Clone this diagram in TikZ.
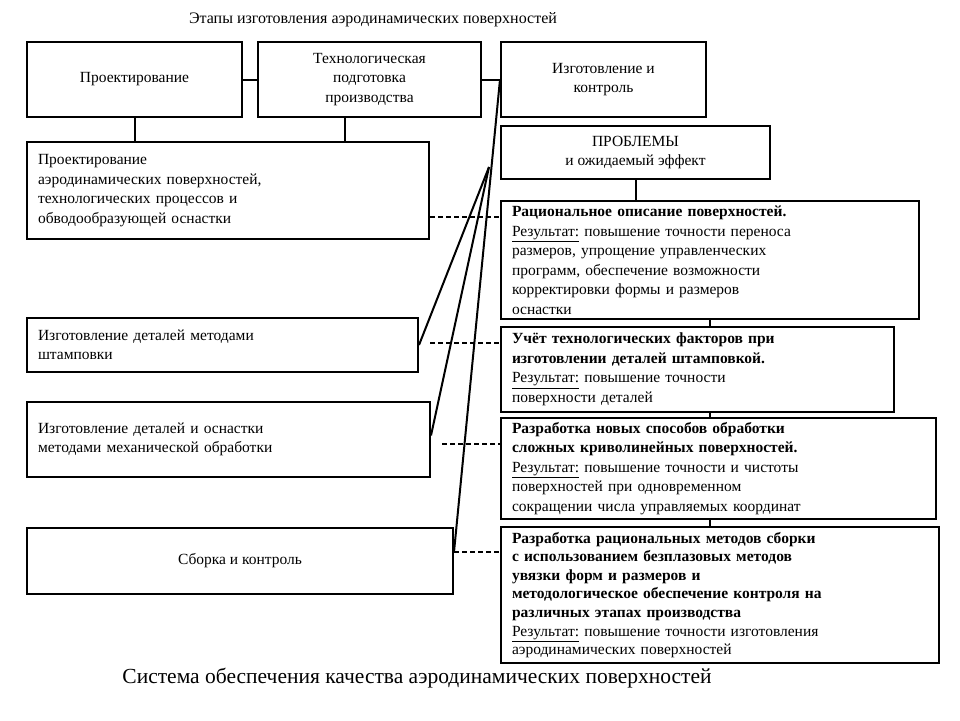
\documentclass[tikz,border=0pt]{standalone}
\usepackage{fontspec}
\setmainfont{Liberation Serif}
\usetikzlibrary{positioning}

\begin{document}
\begin{tikzpicture}[x=1pt, y=-1pt,
    font=\fontsize{15.5}{19.5}\selectfont,
    stage/.style={draw, line width=2pt, align=center, inner sep=0pt, anchor=north west},
    task/.style={draw, line width=2pt, align=left, inner xsep=11pt, inner ysep=0pt, anchor=north west},
    link/.style={line width=2pt},
    hint/.style={line width=2pt, dash pattern=on 5pt off 3pt}]

    \fill[white] (0,0) rectangle (960,720);
    \useasboundingbox (0,0) rectangle (960,720);

    % Title
    \node[font=\fontsize{16}{18}\selectfont, anchor=base] (title) at (373,23) {Этапы изготовления аэродинамических поверхностей};

    % Stages
    \node[stage, minimum width=215pt, minimum height=75pt] (design) at (26,41) {Проектирование};
    \node[stage, minimum width=223pt, minimum height=75pt] (tech) at (257,41) {Технологическая\\подготовка\\производства};
    \node[stage, minimum width=205pt, minimum height=75pt] (make) at (500,41) {Изготовление и\\контроль};

    % Works
    \node[task, minimum width=402pt, minimum height=97pt, text width=380pt] (cad) at (26,141)
        {Проектирование\\аэродинамических поверхностей,\\технологических процессов и\\обводообразующей оснастки};
    \node[task, minimum width=391pt, minimum height=54pt, text width=369pt] (stamp) at (26,317)
        {Изготовление деталей методами\\штамповки};
    \node[task, minimum width=403pt, minimum height=75pt, text width=381pt] (mech) at (26,401)
        {Изготовление деталей и оснастки\\методами механической обработки};
    \node[stage, minimum width=426pt, minimum height=66pt] (asm) at (26,527) {Сборка и контроль};

    % Problems
    \node[stage, minimum width=269pt, minimum height=53pt] (prob) at (500,125) {ПРОБЛЕМЫ\\и ожидаемый эффект};
    \node[task, minimum width=418pt, minimum height=118pt, text width=396pt] (r1) at (500,200)
        {\textbf{Рациональное описание поверхностей.}\\\underline{Результат:} повышение точности переноса\\размеров, упрощение управленческих\\программ, обеспечение возможности\\корректировки формы и размеров\\оснастки};
    \node[task, minimum width=393pt, minimum height=85pt, text width=371pt] (r2) at (500,326)
        {\textbf{Учёт технологических факторов при}\\\textbf{изготовлении деталей штамповкой.}\\\underline{Результат:} повышение точности\\поверхности деталей};
    \node[task, minimum width=435pt, minimum height=101pt, text width=413pt] (r3) at (500,417)
        {\textbf{Разработка новых способов обработки}\\\textbf{сложных криволинейных поверхностей.}\\\underline{Результат:} повышение точности и чистоты\\поверхностей при одновременном\\сокращении числа управляемых координат};
    \node[task, minimum width=438pt, minimum height=136pt, text width=416pt,
        font=\fontsize{15.5}{18.6}\selectfont] (r4) at (500,526)
        {\textbf{Разработка рациональных методов сборки}\\\textbf{с использованием безплазовых методов}\\\textbf{увязки форм и размеров и}\\\textbf{методологическое обеспечение контроля на}\\\textbf{различных этапах производства}\\\underline{Результат:} повышение точности изготовления\\аэродинамических поверхностей};

    % Caption
    \node[font=\fontsize{21.5}{24}\selectfont, anchor=base] (caption) at (417,683) {Система обеспечения качества аэродинамических поверхностей};

    % Links between stages
    \draw[link] (design) -- (tech);
    \draw[link] (tech) -- (make);
    \draw[link] (design.south) -- (design.south |- cad.north);
    \draw[link] ([xshift=-25pt]tech.south) coordinate (t) -- (t |- cad.north);
    \draw[link] (prob.south) -- (prob.south |- r1.north);
    \draw[link] (r1.south) -- (r1.south |- r2.north);
    \draw[link] (r2.south -| r1.south) -- (r3.north -| r1.south);
    \draw[link] (r3.south -| r1.south) -- (r4.north -| r1.south);

    % Links to production works
    \coordinate (fan) at (489,167);
    \draw[link] (make.west) -- ([yshift=9pt]asm.east);
    \draw[link] (fan) -- (stamp.east);
    \draw[link] (fan) -- ([yshift=4pt]mech.east);

    % Problems of each work
    \draw[hint] ([yshift=-26pt]cad.east) coordinate (d1) -- (d1 -| r1.west);
    \draw[hint] ([xshift=11pt, yshift=2pt]stamp.east) coordinate (d2) -- (d2 -| r2.west);
    \draw[hint] ([xshift=11pt, yshift=-4.5pt]mech.east) coordinate (d3) -- (d3 -| r3.west);
    \draw[hint] ([yshift=9pt]asm.east) coordinate (d4) -- (d4 -| r4.west);

\end{tikzpicture}
\end{document}
